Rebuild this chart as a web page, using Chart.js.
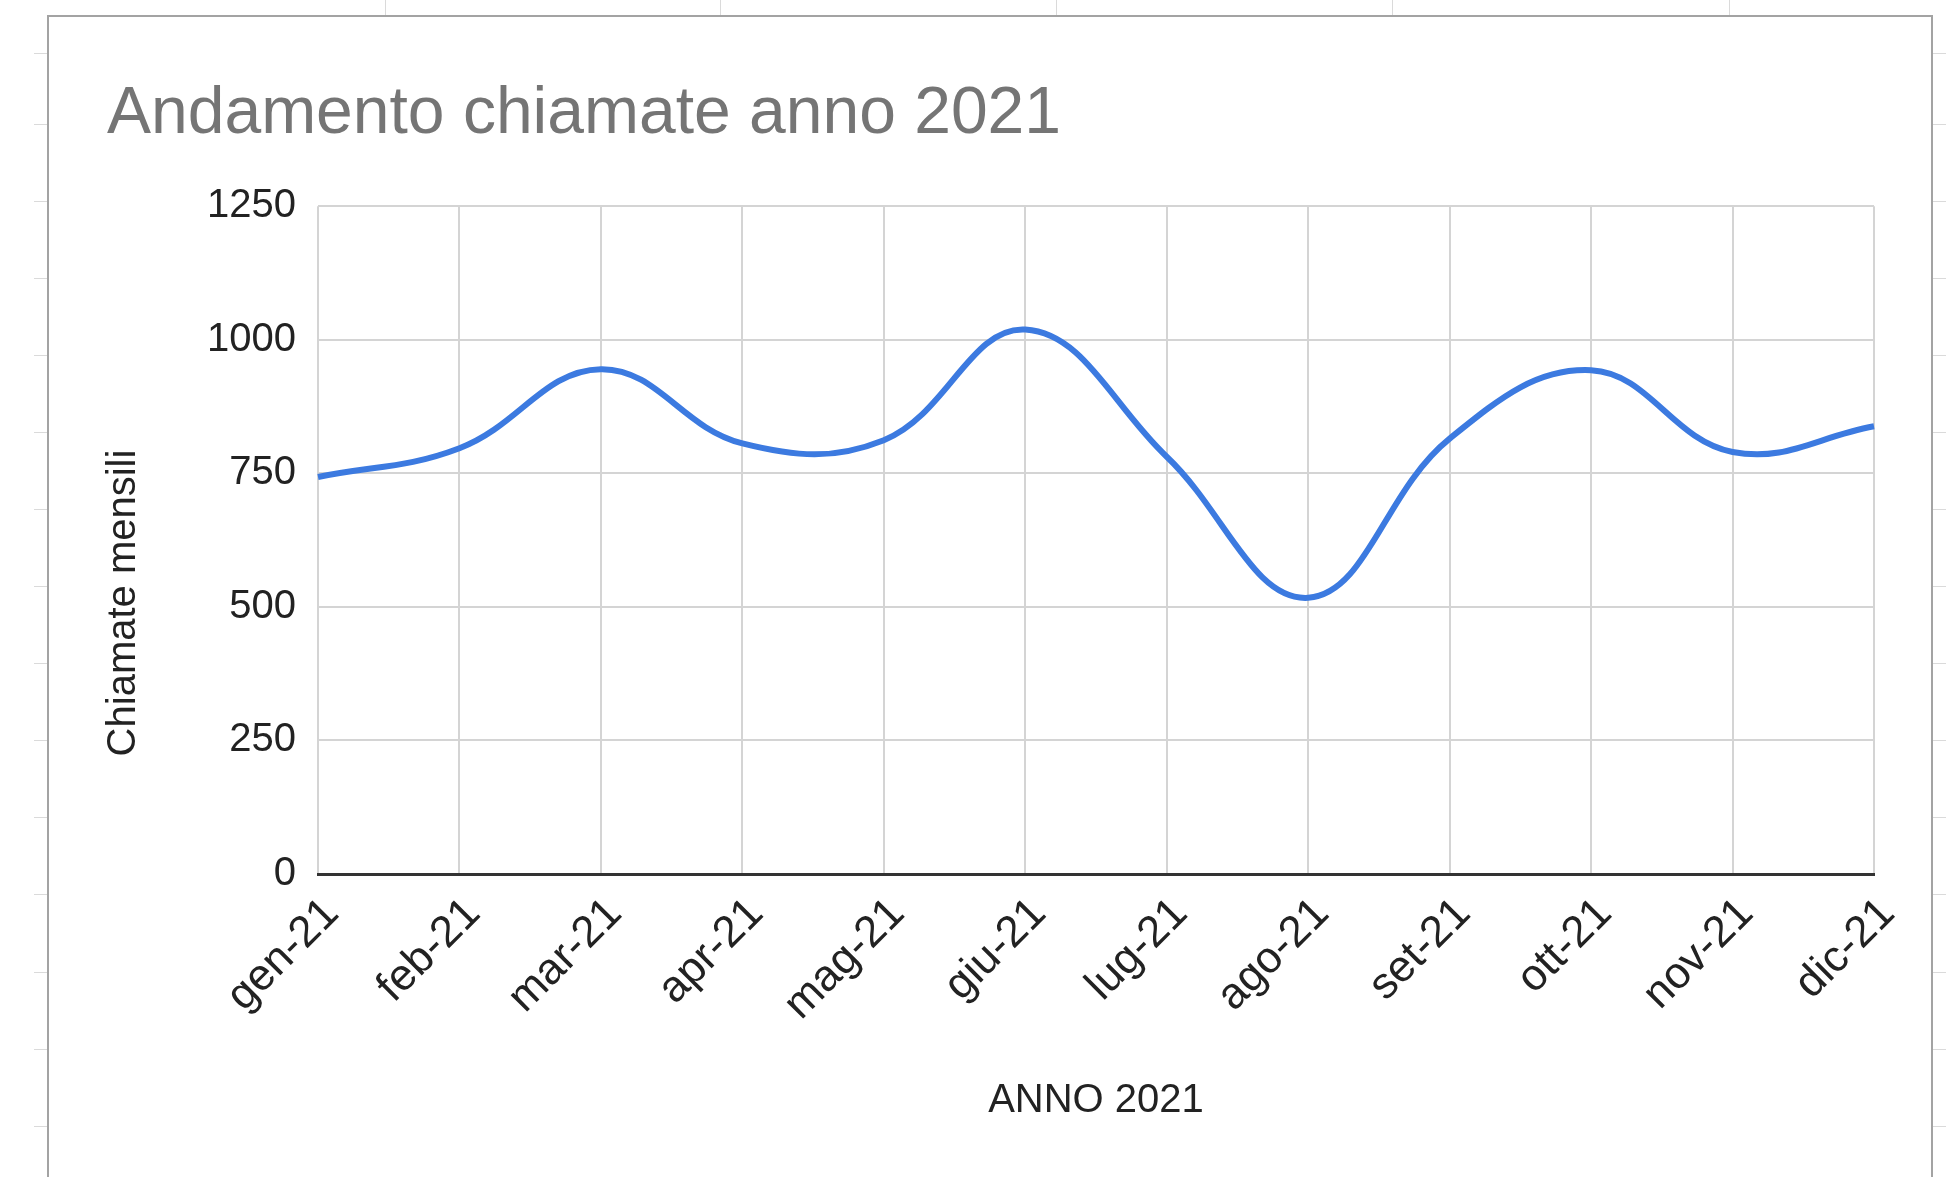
<!DOCTYPE html>
<html>
<head>
<meta charset="utf-8">
<script src="https://cdn.jsdelivr.net/npm/chart.js@4"></script>
<style>
html,body{margin:0;padding:0;background:#fff;width:1946px;height:1177px;overflow:hidden;}
#frame{position:absolute;left:47px;top:15px;width:1886px;height:1200px;border:2px solid #a3a3a3;border-bottom:none;box-sizing:border-box;}
.tk{position:absolute;background:#dadada;}
canvas{position:absolute;left:0;top:0;}
</style>
</head>
<body>
<div id="frame"></div>
<div id="deco"></div>
<canvas id="c" width="1946" height="1177"></canvas>
<script>
// ---- data ----
const months = ['gen-21','feb-21','mar-21','apr-21','mag-21','giu-21','lug-21','ago-21','set-21','ott-21','nov-21','dic-21'];
const calls = [743, 797, 945, 806, 812, 1019, 781, 517, 815, 943, 790, 838];
const yTicks = [0, 250, 500, 750, 1000, 1250];
const chartTitle = 'Andamento chiamate anno 2021';
const xTitle = 'ANNO 2021';
const yTitle = 'Chiamate mensili';

// ---- spreadsheet decoration (cell ticks outside the chart box) ----
const rowYs = [53,124,201,278,355,432,509,586,663,740,817,894,972,1049,1126];
const colXs = [385,720,1056,1392,1729];
const deco = document.getElementById('deco');
rowYs.forEach(y => {
  [[34,13],[1933,13]].forEach(([x,w]) => {
    const d = document.createElement('div'); d.className='tk';
    d.style.left = x+'px'; d.style.top = y+'px'; d.style.width = w+'px'; d.style.height='1px';
    deco.appendChild(d);
  });
});
colXs.forEach(x => {
  const d = document.createElement('div'); d.className='tk';
  d.style.left = x+'px'; d.style.top = '0px'; d.style.width = '1px'; d.style.height='15px';
  deco.appendChild(d);
});

const FONT = "'Liberation Sans', Arial, sans-serif";

// y-axis title, centred on the whole plot block as in the original
const yTitlePlugin = {
  id: 'yTitleText',
  afterDraw(chart) {
    const c = chart.ctx;
    c.save();
    c.translate(124, 603);
    c.rotate(-Math.PI / 2);
    c.textAlign = 'center';
    c.textBaseline = 'middle';
    c.font = '40px ' + FONT;
    c.fillStyle = '#222222';
    c.fillText(yTitle, 0, 0);
    c.restore();
  }
};

new Chart(document.getElementById('c'), {
  type: 'line',
  data: {
    labels: months,
    datasets: [{
      data: calls,
      borderColor: '#3c7ae0',
      borderWidth: 6,
      tension: 0.4,
      pointRadius: 0,
      pointHoverRadius: 0,
      fill: false
    }]
  },
  plugins: [yTitlePlugin],
  options: {
    responsive: false,
    animation: false,
    devicePixelRatio: 1,
    layout: { padding: { left: 107, top: 0, right: 72, bottom: 0 } },
    plugins: {
      legend: { display: false },
      tooltip: { enabled: false },
      title: {
        display: true,
        text: chartTitle,
        align: 'start',
        color: '#757575',
        font: { family: FONT, size: 66, weight: 'normal', lineHeight: 1.2 },
        padding: { top: 75, bottom: 52 }
      }
    },
    scales: {
      x: {
        offset: false,
        grid: { color: '#d4d4d4', lineWidth: 2, drawTicks: false },
        border: { color: '#333333', width: 3 },
        ticks: {
          autoSkip: false,
          minRotation: 45,
          maxRotation: 45,
          color: '#222222',
          padding: 14,
          labelOffset: 14,
          font: { family: FONT, size: 44 }
        },
        title: {
          display: true,
          text: xTitle,
          color: '#222222',
          font: { family: FONT, size: 40, lineHeight: 1.2 },
          padding: { top: 0, bottom: 52 }
        },
        afterFit: (s) => { s.height = 303; }
      },
      y: {
        min: 0,
        max: 1250,
        afterBuildTicks: (s) => { s.ticks = yTicks.map(v => ({ value: v })); },
        grid: { color: '#d4d4d4', lineWidth: 2, drawTicks: false },
        border: { display: false },
        ticks: {
          color: '#222222',
          padding: 22,
          font: { family: FONT, size: 40 },
          callback: (v) => String(v)
        },
        title: { display: false },
        afterFit: (s) => { s.width = 211; }
      }
    }
  }
});
</script>
</body>
</html>
